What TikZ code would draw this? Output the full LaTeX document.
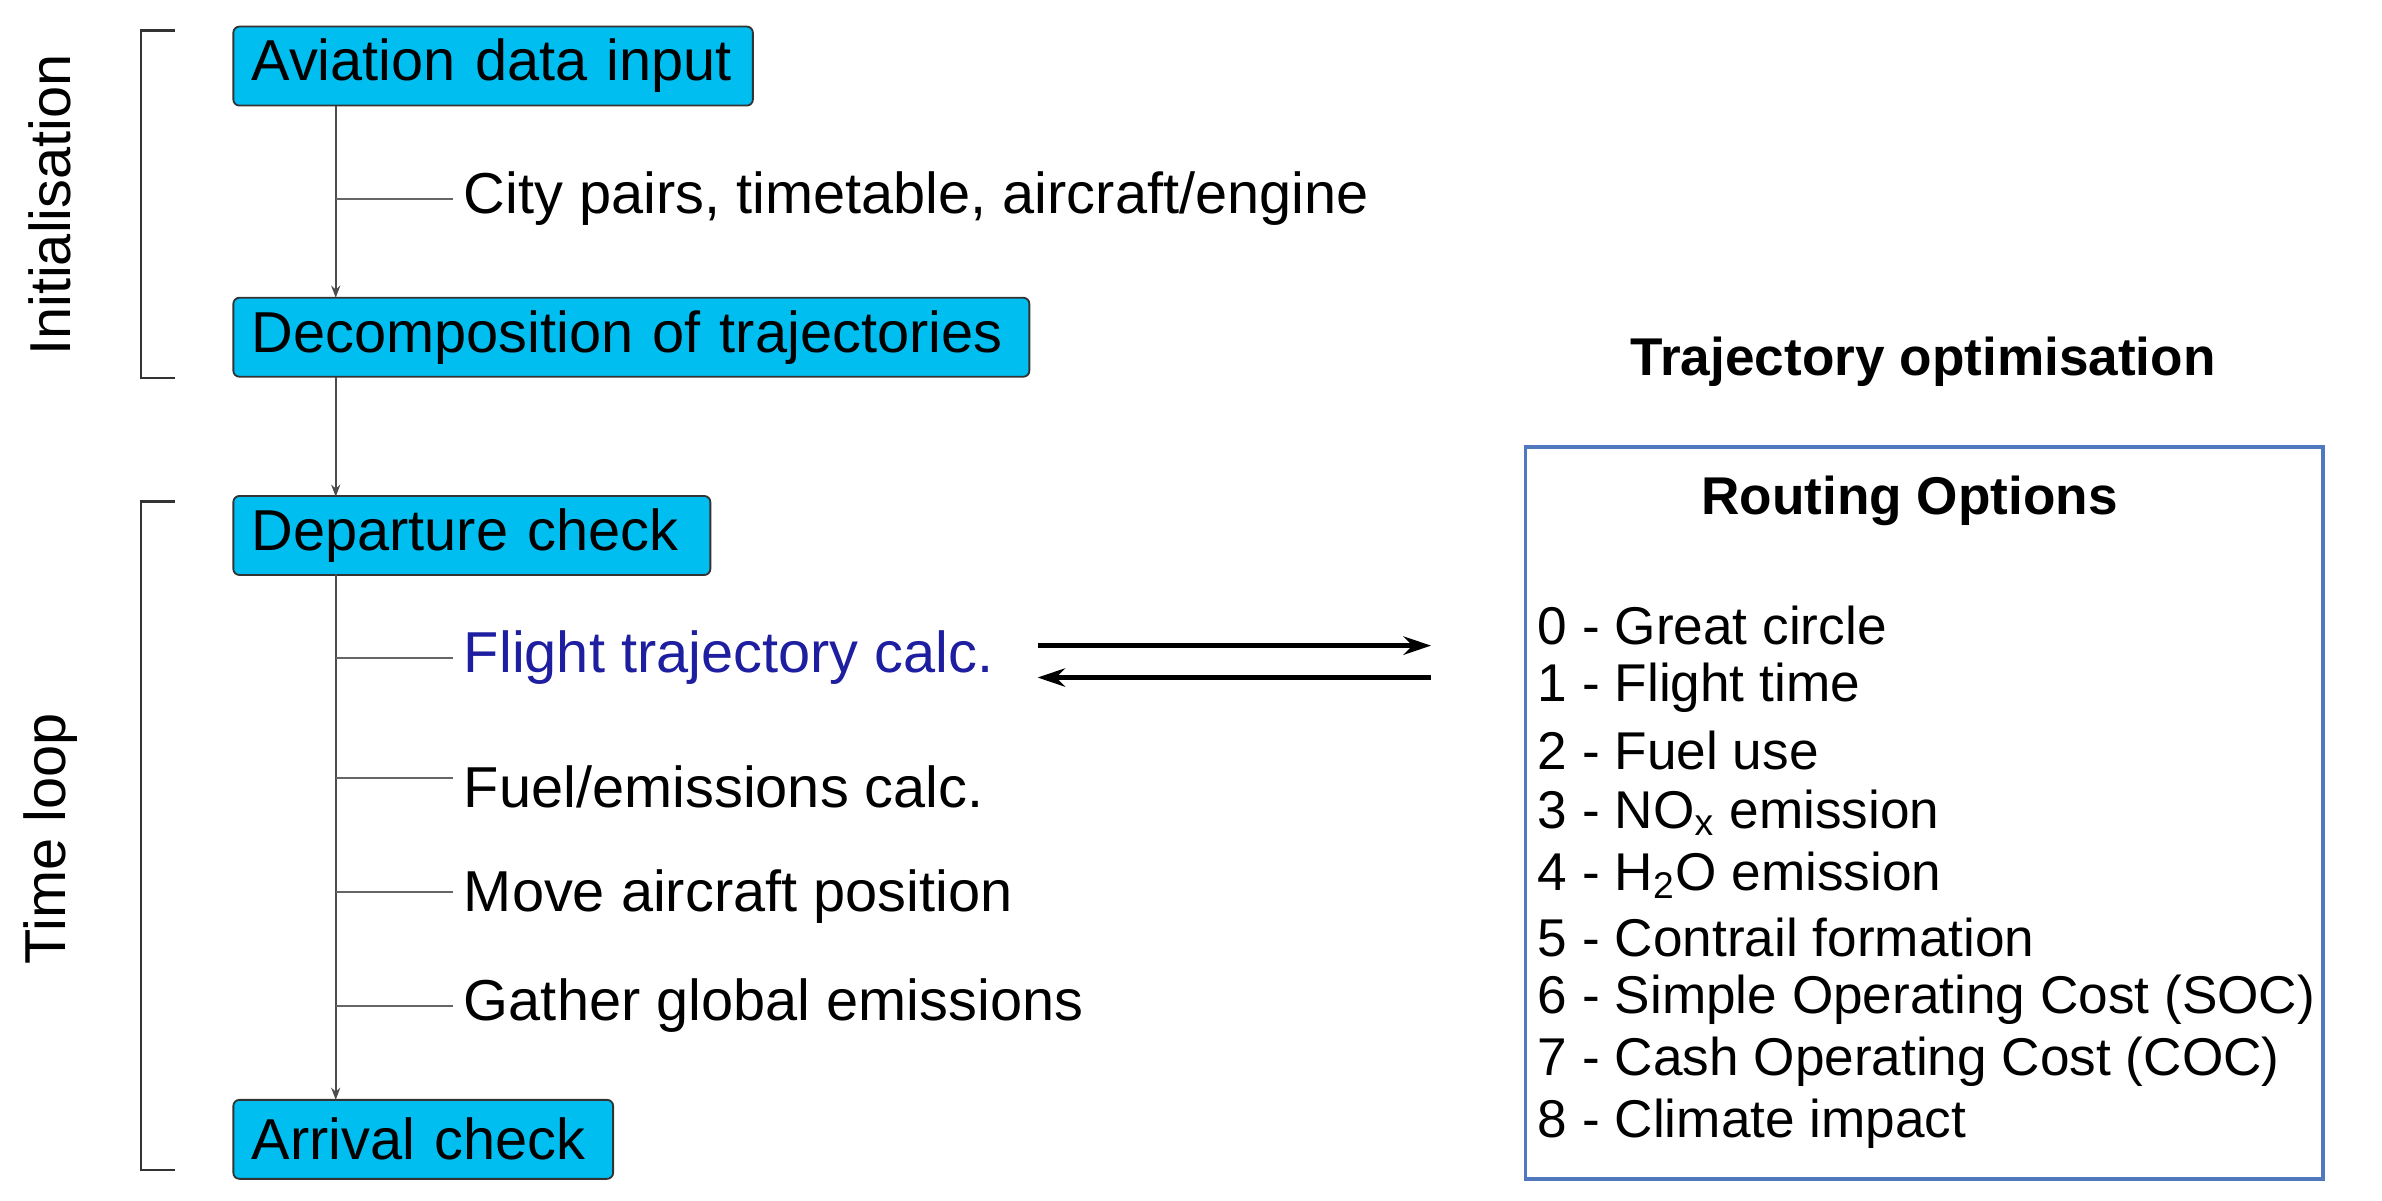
\documentclass[tikz,border=0pt]{standalone}
\usepackage{fontspec}
\setmainfont{Liberation Sans}
\usetikzlibrary{arrows.meta}
\definecolor{boxc}{RGB}{0,190,240}
\definecolor{optb}{RGB}{80,120,190}
\definecolor{calcb}{RGB}{30,30,160}
\begin{document}
\begin{tikzpicture}[x=0.5pt,y=-0.5pt,
  box/.style={draw=black!80,fill=boxc,rounded corners=2pt,anchor=west,inner xsep=6pt,inner ysep=0pt,align=left,minimum height=26pt,font=\fontsize{19}{21}\selectfont,line width=0.6pt},
  lbl/.style={anchor=west,font=\fontsize{19}{21}\selectfont,inner sep=0pt},
  item/.style={anchor=west,font=\fontsize{17.5}{20}\selectfont,inner sep=0pt},
  flow/.style={draw=black!70,line width=0.6pt,-{Stealth[length=4pt,width=3pt]}},
  br/.style={draw=black!80,line width=0.8pt},
  big/.style={line width=1.6pt,-{Stealth[length=9pt,width=6pt]}}]
\useasboundingbox (0,0) rectangle (1568,790);
\node[box,text width=159pt] (a) at (153,43.5) {Aviation data input};
\node[box,text width=250pt] (d) at (153,222) {Decomposition of trajectories};
\node[box,text width=145pt] (p) at (153,352.5) {Departure check};
\node[box,text width=113pt] (r) at (153,750) {Arrival check};
\coordinate (a1) at (221,70); \coordinate (d1) at (221,196);
\coordinate (d2) at (221,248); \coordinate (p1) at (221,327);
\coordinate (p2) at (221,378); \coordinate (r1) at (221,724);
\draw[flow] (a1) -- (d1);
\draw[flow] (d2) -- (p1);
\draw[flow] (p2) -- (r1);
\node[lbl] (t1) at (305,131) {City pairs, timetable, aircraft/engine};
\node[lbl,text=calcb] (t2) at (305,433) {Flight trajectory calc.};
\node[lbl] (t3) at (305,518) {Fuel/emissions calc.};
\node[lbl] (t4) at (305,590) {Move aircraft position};
\node[lbl] (t5) at (305,662) {Gather global emissions};
\foreach \n/\y in {t1/131,t2/433,t3/512,t4/587,t5/662}{
  \draw[black!60,line width=0.6pt] (221,\y) -- (298,\y);}
\draw[br] (115,20) -- (93,20) -- (93,249) -- (115,249);
\draw[br] (115,330) -- (93,330) -- (93,770) -- (115,770);
\node[rotate=90,font=\fontsize{19}{21}\selectfont] (ini) at (33,135) {Initialisation};
\node[rotate=90,font=\fontsize{19}{21}\selectfont] (tl) at (33,552) {Time loop};
\node[draw=optb,line width=1.2pt,minimum width=262.5pt,minimum height=241pt,anchor=north west,inner sep=0pt] (ob) at (1003,293) {};
\node[font=\bfseries\fontsize{17.5}{20}\selectfont] (to) at (1266,238) {Trajectory optimisation};
\node[font=\bfseries\fontsize{17.5}{20}\selectfont] (ro) at (1257,330) {Routing Options};
\coordinate (l1) at (683,425); \coordinate (r1b) at (942,425);
\coordinate (l2) at (683,446); \coordinate (r2) at (942,446);
\draw[big] (l1) -- (r1b);
\draw[big] (r2) -- (l2);
\foreach \i/\t in {0/{0 - Great circle},1/{1 - Flight time},2/{2 - Fuel use},3/{3 - NO\textsubscript{x} emission},4/{4 - H\textsubscript{2}O emission},5/{5 - Contrail formation},6/{6 - Simple Operating Cost (SOC)},7/{7 - Cash Operating Cost (COC)},8/{8 - Climate impact}}{
  \node[item] (i\i) at (1012,412+41*\i) {\t};}
\end{tikzpicture}
\end{document}
